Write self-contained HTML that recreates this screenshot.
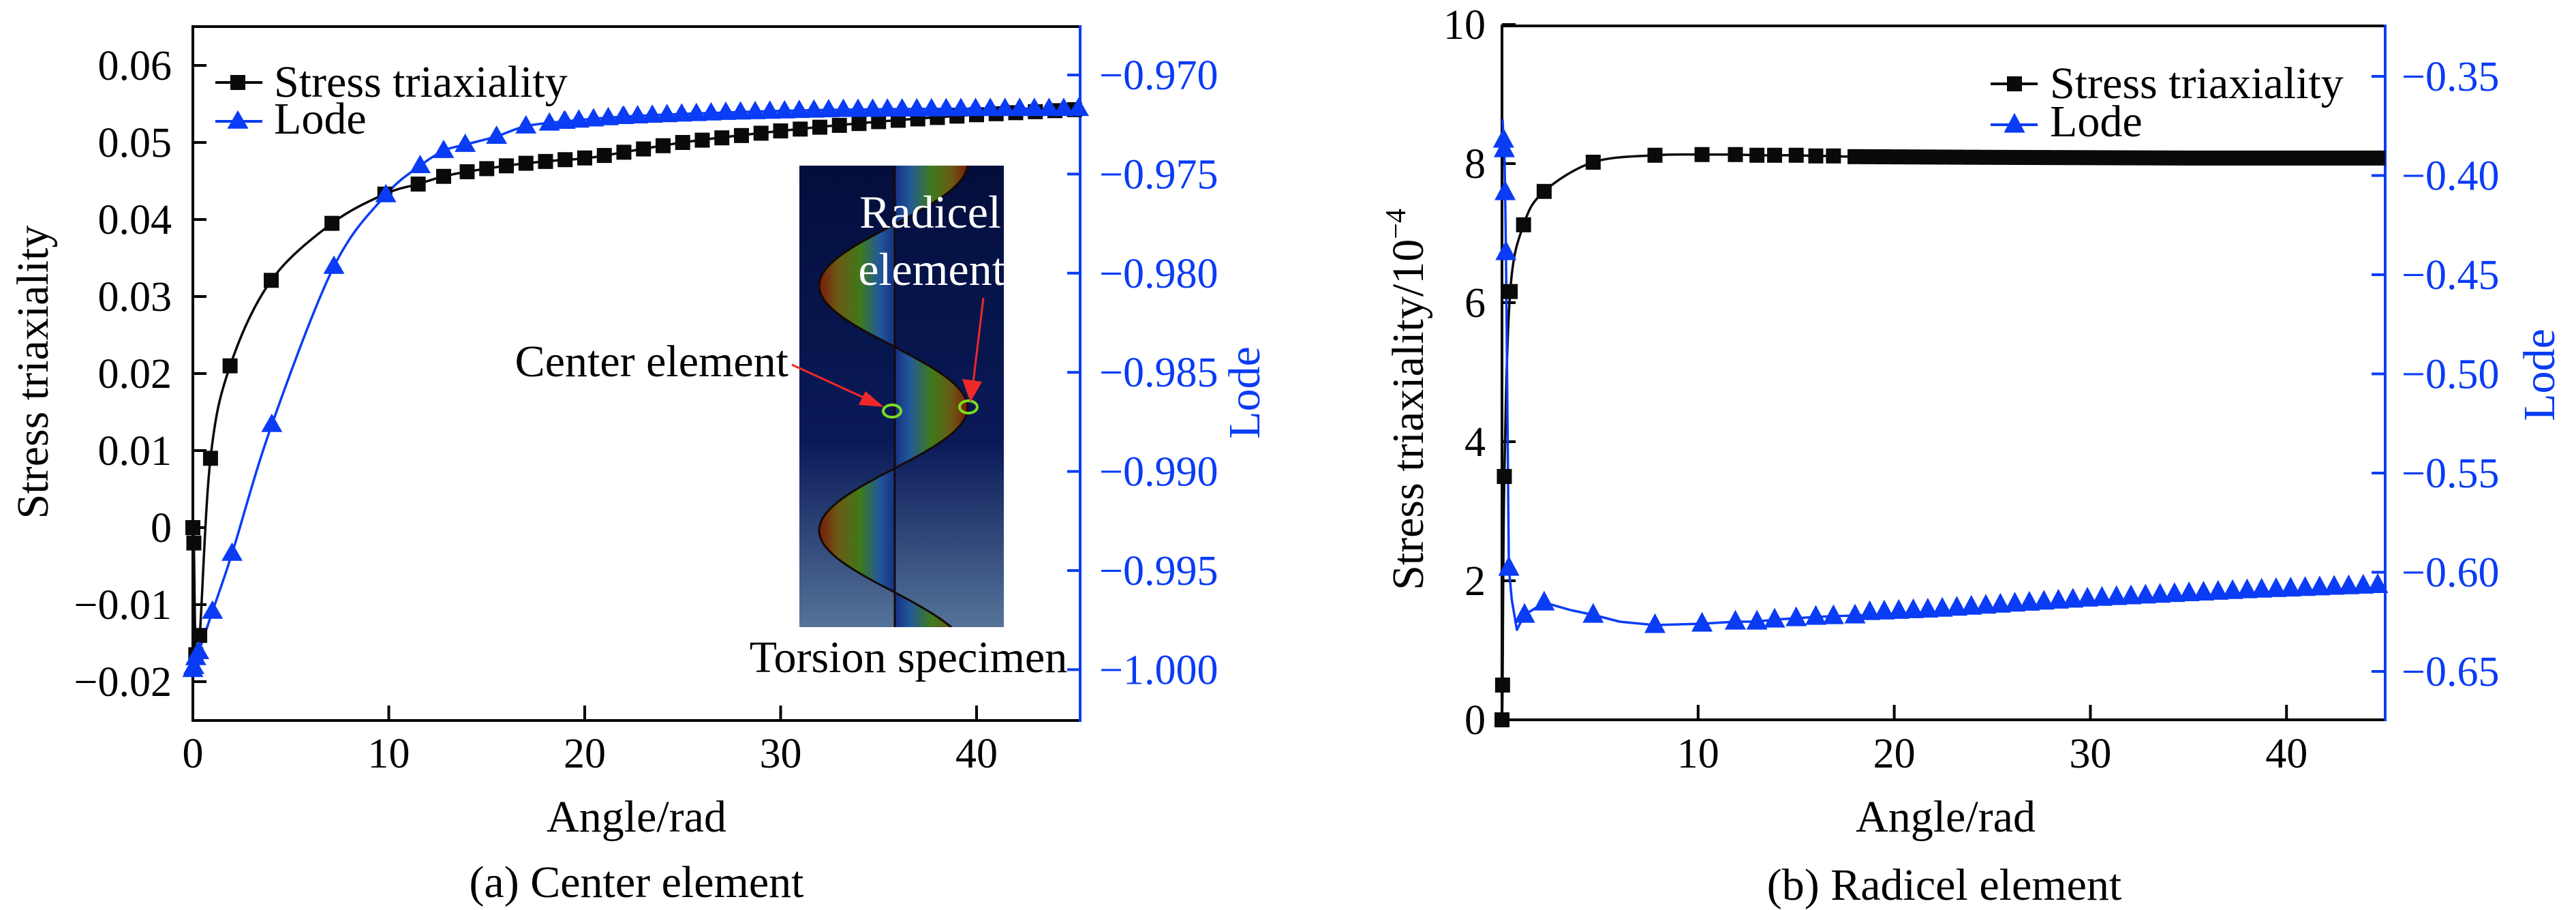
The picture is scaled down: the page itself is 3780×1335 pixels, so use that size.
<!DOCTYPE html>
<html><head><meta charset="utf-8"><style>
html,body{margin:0;padding:0;background:#fff;}
svg{display:block;font-family:"Liberation Serif","Noto Serif CJK SC","DejaVu Serif",serif;}
svg text{font-family:"Liberation Serif","Noto Serif CJK SC","DejaVu Serif",serif;}
</style></head><body>
<svg id="s" width="3780" height="1335" viewBox="0 0 3780 1335" xmlns="http://www.w3.org/2000/svg">
<defs>
<linearGradient id="bg" x1="0" y1="0" x2="0" y2="1">
<stop offset="0" stop-color="#030e3c"/><stop offset="0.6" stop-color="#0a1a58"/><stop offset="1" stop-color="#557399"/>
</linearGradient>
<linearGradient id="gl" x1="1202" y1="0" x2="1313" y2="0" gradientUnits="userSpaceOnUse">
<stop offset="0" stop-color="#7a1a0a"/><stop offset="0.25" stop-color="#6a5a14"/><stop offset="0.55" stop-color="#3e7a1c"/><stop offset="0.8" stop-color="#22589a"/><stop offset="1" stop-color="#163080"/>
</linearGradient>
<linearGradient id="gr" x1="1313" y1="0" x2="1420" y2="0" gradientUnits="userSpaceOnUse">
<stop offset="0" stop-color="#163080"/><stop offset="0.2" stop-color="#22589a"/><stop offset="0.5" stop-color="#3e7a1c"/><stop offset="0.78" stop-color="#6a5a14"/><stop offset="1" stop-color="#7a1a0a"/>
</linearGradient>
<clipPath id="ic"><rect x="1173" y="243" width="300" height="677"/></clipPath>
</defs>
<g id="inset">
<rect x="1173" y="243" width="300" height="677" fill="url(#bg)"/>
<g id="lobes" clip-path="url(#ic)"></g>
<line x1="1313" y1="243" x2="1313" y2="920" stroke="#0a0a20" stroke-width="1"/>
<ellipse cx="1309" cy="603" rx="13" ry="9" fill="none" stroke="#7ade1e" stroke-width="4"/>
<ellipse cx="1421" cy="597" rx="13" ry="9" fill="none" stroke="#7ade1e" stroke-width="4"/>
<line x1="1162" y1="535" x2="1282" y2="590" stroke="#f02828" stroke-width="3"/>
<polygon points="1297,597 1260,594 1270,574" fill="#f02828"/>
<line x1="1443" y1="437" x2="1427" y2="570" stroke="#f02828" stroke-width="3"/>
<polygon points="1424,590 1412,556 1441,560" fill="#f02828"/>
<text x="1365" y="334" font-size="68" fill="#fff" text-anchor="middle">Radicel</text>
<text x="1367" y="418" font-size="68" fill="#fff" text-anchor="middle">element</text>
<text x="1157" y="552" font-size="66" fill="#000" text-anchor="end">Center element</text>
<text x="1333" y="986" font-size="66" fill="#000" text-anchor="middle">Torsion specimen</text>
</g>
<g id="plots"></g>
</svg>
<script>
const NS="http://www.w3.org/2000/svg";
const FF="'Liberation Serif', 'Noto Serif CJK SC', 'DejaVu Serif', serif";
const plots=document.getElementById('plots');
function el(t,a,p){const e=document.createElementNS(NS,t);for(const k in a)e.setAttribute(k,a[k]);if(t==='text')e.setAttribute('font-family',FF);(p||plots).appendChild(e);return e;}
function txt(x,y,s,a){const e=el('text',Object.assign({x:x,y:y,'font-size':62},a||{}));e.textContent=s;return e;}
function smooth(P){let d='M'+P[0][0].toFixed(1)+','+P[0][1].toFixed(1);
 for(let i=0;i<P.length-1;i++){const p0=P[Math.max(0,i-1)],p1=P[i],p2=P[i+1],p3=P[Math.min(P.length-1,i+2)];
 const c1=[p1[0]+(p2[0]-p0[0])/6,p1[1]+(p2[1]-p0[1])/6],c2=[p2[0]-(p3[0]-p1[0])/6,p2[1]-(p3[1]-p1[1])/6];
 d+=' C'+c1.map(v=>v.toFixed(1))+' '+c2.map(v=>v.toFixed(1))+' '+p2.map(v=>v.toFixed(1));}
 return d;}
function interp(pts,x){for(let i=0;i<pts.length-1;i++){if(x>=pts[i][0]&&x<=pts[i+1][0]){const t=(x-pts[i][0])/(pts[i+1][0]-pts[i][0]);return pts[i][1]+t*(pts[i+1][1]-pts[i][1]);}}return pts[pts.length-1][1];}
function sq(x,y,s){el('rect',{x:x-s/2,y:y-s/2,width:s,height:s,fill:'#0a0a0a'});}
function tri(x,y,w,h){el('polygon',{points:`${x},${y-h*0.6} ${x-w/2},${y+h*0.4} ${x+w/2},${y+h*0.4}`,fill:'#0a3cf5'});}
const BLUE='#0a3cf5';
document.querySelectorAll('#inset text').forEach(t=>t.setAttribute('font-family',FF));

(function(){const g=document.getElementById('lobes');
 function lobe(y0,y1,dir,A){let d='M1313,'+y0;for(let k=0;k<=40;k++){const y=y0+(y1-y0)*k/40;const x=1313+dir*A*Math.sin(Math.PI*k/40);d+=' L'+x.toFixed(1)+','+y.toFixed(1);}d+=' Z';
  el('path',{d:d,fill:dir<0?'url(#gl)':'url(#gr)',stroke:'#150a05','stroke-width':3},g);}
 lobe(150,329,1,107);lobe(329,509,-1,111);lobe(509,687,1,107);lobe(687,869,-1,111);lobe(869,1050,1,107);
})();

const lx=x=>283+x*28.75, ly=v=>774-v*11300, lr=v=>110+(-0.970-v)/0.005*145.4;
el('line',{x1:283,y1:39,x2:1585,y2:39,stroke:'#000','stroke-width':4});
el('line',{x1:283,y1:37,x2:283,y2:1059,stroke:'#000','stroke-width':4});
el('line',{x1:281,y1:1057,x2:1587,y2:1057,stroke:'#000','stroke-width':4});
el('line',{x1:1585,y1:37,x2:1585,y2:1059,stroke:BLUE,'stroke-width':4});
[0.06,0.05,0.04,0.03,0.02,0.01,0,-0.01,-0.02].forEach(v=>{const y=ly(v);el('line',{x1:283,y1:y,x2:303,y2:y,stroke:'#000','stroke-width':4});
 txt(252,y+21,(v<0?'\u2212':'')+(v===0?'0':Math.abs(v).toFixed(2)),{'text-anchor':'end'});});
[0,10,20,30,40].forEach(v=>{const x=lx(v);el('line',{x1:x,y1:1057,x2:x,y2:1035,stroke:'#000','stroke-width':4});txt(x,1126,String(v),{'text-anchor':'middle'});});
[-0.970,-0.975,-0.980,-0.985,-0.990,-0.995,-1.000].forEach(v=>{const y=lr(v);el('line',{x1:1566,y1:y,x2:1585,y2:y,stroke:BLUE,'stroke-width':4});
 txt(1613,y+21,'\u2212'+Math.abs(v).toFixed(3),{fill:BLUE});});
txt(934,1220,'Angle/rad',{'text-anchor':'middle','font-size':66});
txt(934,1316,'(a) Center element',{'text-anchor':'middle','font-size':66});
el('text',{x:0,y:0,'font-size':66,'text-anchor':'middle',transform:'translate(70,546) rotate(-90)'}).textContent='Stress triaxiality';
el('text',{x:0,y:0,'font-size':66,'text-anchor':'middle',fill:BLUE,transform:'translate(1848,576) rotate(-90)'}).textContent='Lode';
const LS=[[0,0],[0.05,-0.002],[0.15,-0.0165],[0.35,-0.014],[0.9,0.009],[1.9,0.021],[4,0.0321],[7.1,0.0395],[9.8,0.0433],[11.5,0.0446],[12.8,0.0456],[14,0.0462],[15.5,0.0468],[17,0.0473],[18.7,0.0477],[20.5,0.0481],[25,0.0500],[30,0.0515],[35,0.0527],[40,0.0536],[45.3,0.0543]];
el('path',{d:smooth(LS.map(p=>[lx(p[0]),ly(p[1])])),fill:'none',stroke:'#0a0a0a','stroke-width':3.5});
const LL=[[0,-1.0],[0.05,-0.99985],[0.15,-0.9994],[0.3,-0.9991],[1.0,-0.99706],[2.0,-0.99414],[4.03,-0.98764],[7.2,-0.97966],[9.85,-0.97605],[11.6,-0.97458],[12.8,-0.97382],[13.9,-0.97351],[15.5,-0.9731],[17,-0.97258],[19,-0.97234],[22,-0.9721],[27,-0.9719],[33,-0.97175],[40,-0.9717],[45.3,-0.9717]];
el('path',{d:smooth(LL.map(p=>[lx(p[0]),lr(p[1])])),fill:'none',stroke:BLUE,'stroke-width':3.5});
LS.slice(0,12).forEach(p=>sq(lx(p[0]),ly(p[1]),22));
for(let x=15;x<=45.2;x+=1.0)sq(lx(x),ly(interp(LS,x)),22);
LL.slice(0,16).forEach(p=>tri(lx(p[0]),lr(p[1]),31,27));
for(let x=18.2;x<=45.4;x+=0.75)tri(lx(x),lr(interp(LL,x)),31,27);
el('line',{x1:316,y1:121,x2:385,y2:121,stroke:'#0a0a0a','stroke-width':4});sq(349,121,22);
txt(402,142,'Stress triaxiality',{'font-size':66});
el('line',{x1:316,y1:178,x2:385,y2:178,stroke:BLUE,'stroke-width':4});tri(349,178,31,27);
txt(402,196,'Lode',{'font-size':66});

const rx=x=>2204+x*28.78, ry=v=>1056-v*102;
el('line',{x1:2204,y1:38,x2:3500,y2:38,stroke:'#000','stroke-width':4});
el('line',{x1:2204,y1:36,x2:2204,y2:1058,stroke:'#000','stroke-width':4});
el('line',{x1:2202,y1:1056,x2:3502,y2:1056,stroke:'#000','stroke-width':4});
el('line',{x1:3500,y1:36,x2:3500,y2:1058,stroke:BLUE,'stroke-width':4});
const rr=v=>112+(-0.35-v)/0.05*145.5;
[10,8,6,4,2,0].forEach(v=>{const y=ry(v);el('line',{x1:2204,y1:y,x2:2224,y2:y,stroke:'#000','stroke-width':4});txt(2180,y+21,String(v),{'text-anchor':'end'});});
[10,20,30,40].forEach(v=>{const x=rx(v);el('line',{x1:x,y1:1056,x2:x,y2:1034,stroke:'#000','stroke-width':4});txt(x,1126,String(v),{'text-anchor':'middle'});});
[-0.35,-0.40,-0.45,-0.50,-0.55,-0.60,-0.65].forEach(v=>{const y=rr(v);el('line',{x1:3480,y1:y,x2:3500,y2:y,stroke:BLUE,'stroke-width':4});txt(3524,y+21,'\u2212'+Math.abs(v).toFixed(2),{fill:BLUE});});
txt(2855,1220,'Angle/rad',{'text-anchor':'middle','font-size':66});
txt(2853,1320,'(b) Radicel element',{'text-anchor':'middle','font-size':66});
(function(){const t=el('text',{x:0,y:0,'font-size':66,'text-anchor':'middle',transform:'translate(2088,586) rotate(-90)'});
 t.textContent='Stress triaxiality/10';const sp=document.createElementNS(NS,'tspan');sp.setAttribute('dy','-26');sp.setAttribute('font-size','42');sp.textContent='\u22124';t.appendChild(sp);})();
el('text',{x:0,y:0,'font-size':66,'text-anchor':'middle',fill:BLUE,transform:'translate(3748,550) rotate(-90)'}).textContent='Lode';
const RS=[[0,0],[0.03,0.5],[0.12,3.5],[0.42,6.16],[1.1,7.12],[2.15,7.6],[4.65,8.02],[7.8,8.12],[10.2,8.13],[11.9,8.13],[13.0,8.12],[13.9,8.12],[15,8.12],[16,8.11],[16.9,8.11],[18,8.1],[25,8.09],[35,8.08],[45,8.08]];
el('path',{d:smooth(RS.map(p=>[rx(p[0]),ry(p[1])])),fill:'none',stroke:'#0a0a0a','stroke-width':3.5});
const RLpx=[[0.03,175],[0.08,205],[0.12,219],[0.16,282],[0.2,370],[0.35,833],[0.5,880],[0.76,924],[1.15,902],[2.15,884],[3.5,895],[4.65,902],[6,912],[7.8,917],[10.2,915],[11.9,912],[13,912],[13.9,909],[15,907],[16,905],[16.9,904],[18,903],[22,898],[30,882],[38,870],[45,862]];
el('path',{d:'M'+RLpx.map(p=>rx(p[0]).toFixed(1)+','+p[1]).join(' L'),fill:'none',stroke:BLUE,'stroke-width':3.5,'stroke-linejoin':'round'});
RS.slice(0,16).forEach(p=>sq(rx(p[0]),ry(p[1]),22));
for(let x=18.75;x<=45.1;x+=0.74)sq(rx(x),ry(interp(RS,x)),22);
[[0.08,205],[0.12,219],[0.16,282],[0.2,370],[0.35,833],[1.15,902],[2.15,884],[4.65,902],[7.8,917],[10.2,915],[11.9,912],[13,912],[13.9,909],[15,907],[16,905],[16.9,904],[18,903]].forEach(p=>tri(rx(p[0]),p[1],31,29));
for(let x=18.75;x<=45.1;x+=0.74){const yy=interp(RLpx,x);tri(rx(x),yy-4,31,29);}
el('line',{x1:2921,y1:123,x2:2990,y2:123,stroke:'#0a0a0a','stroke-width':4});sq(2956,123,22);
txt(3008,144,'Stress triaxiality',{'font-size':66});
el('line',{x1:2921,y1:183,x2:2990,y2:183,stroke:BLUE,'stroke-width':4});tri(2956,183,31,29);
txt(3008,200,'Lode',{'font-size':66});
</script>
</body></html>
